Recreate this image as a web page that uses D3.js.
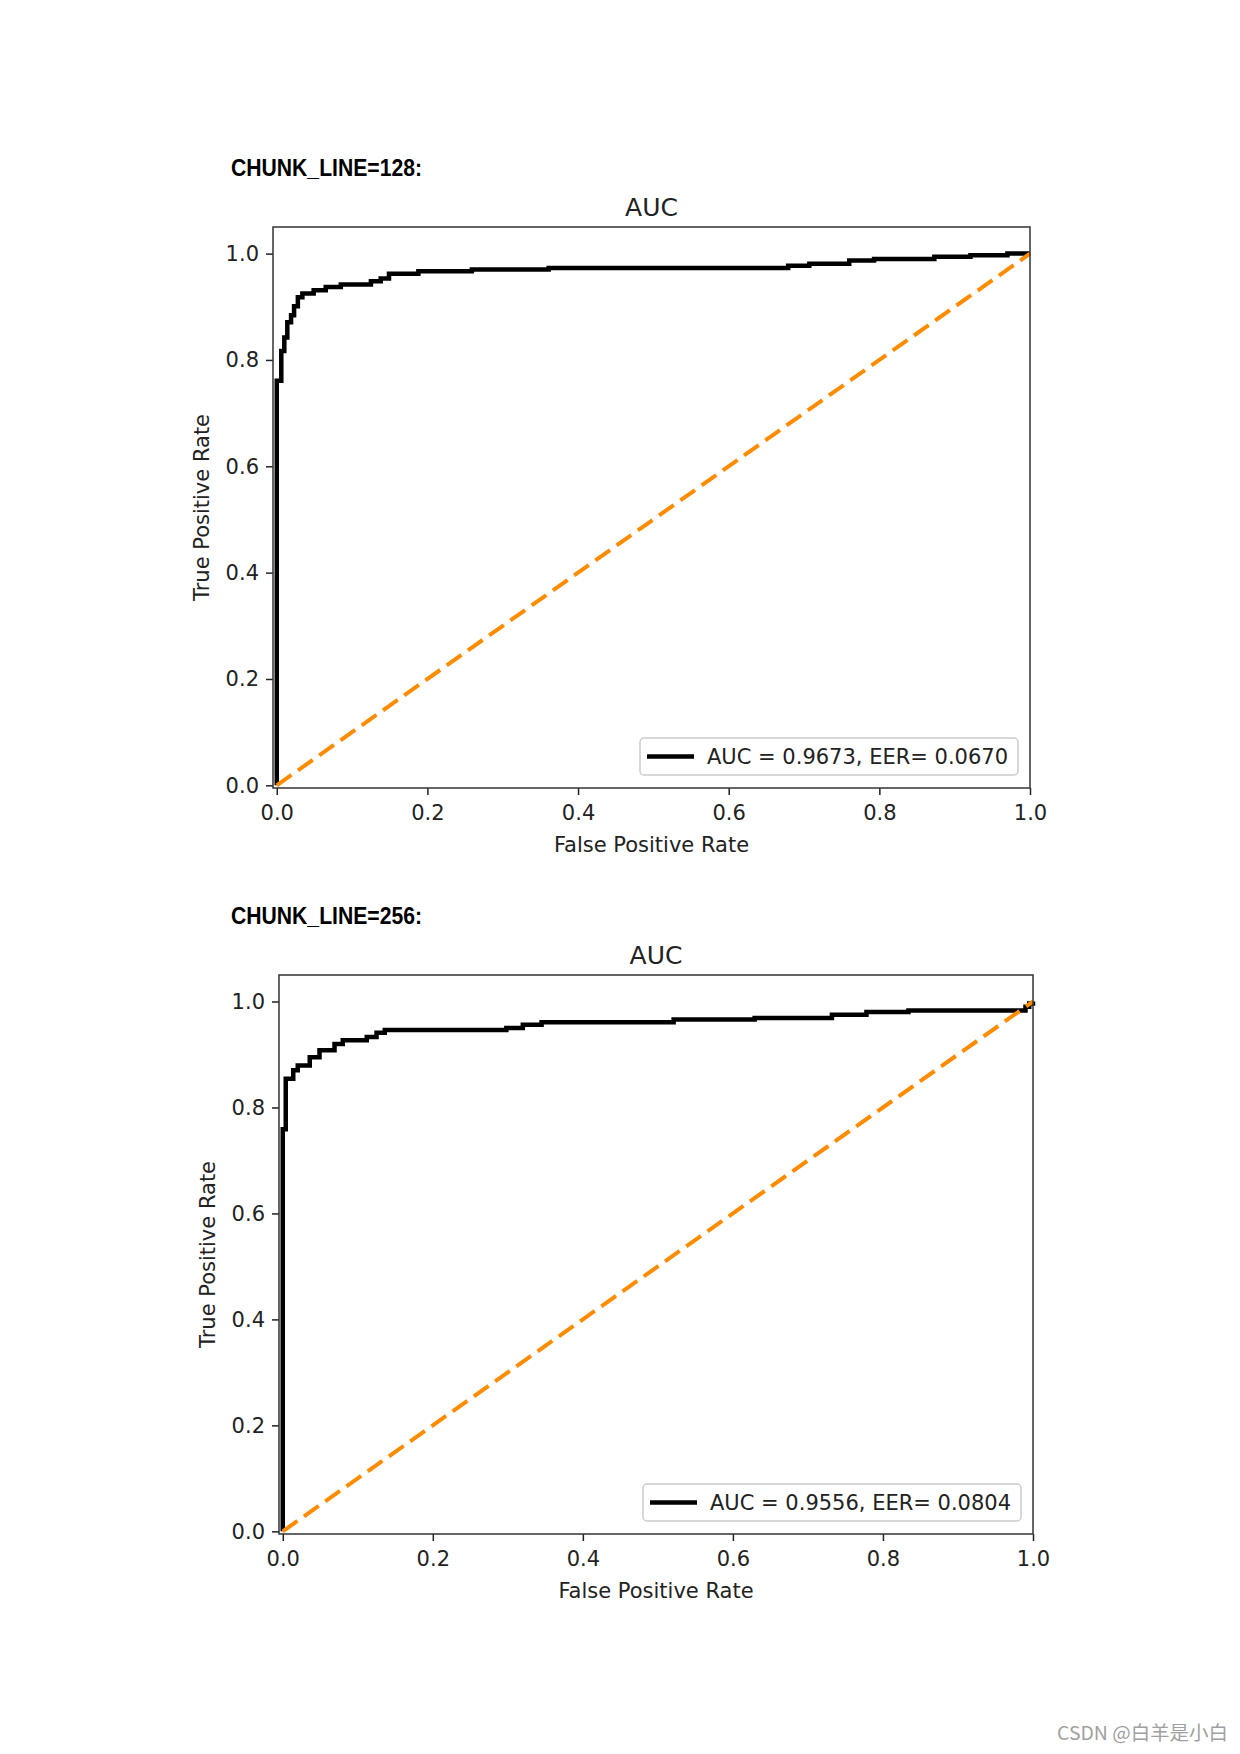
<!DOCTYPE html>
<html>
<head>
<meta charset="utf-8">
<script src="https://cdn.jsdelivr.net/npm/d3@7"></script>
<style>
  html, body { margin: 0; padding: 0; background: #fff; }
  svg { display: block; }
</style>
</head>
<body>
<svg id="page" width="1240" height="1754"></svg>
<script>
// ---------------- data ----------------
const headers = ["CHUNK_LINE=128:", "CHUNK_LINE=256:"];
const chartTitles = ["AUC", "AUC"];
const legendLabels = ["AUC = 0.9673, EER= 0.0670", "AUC = 0.9556, EER= 0.0804"];
const xTicks = [0.0, 0.2, 0.4, 0.6, 0.8, 1.0];
const yTicks = [0.0, 0.2, 0.4, 0.6, 0.8, 1.0];
const xLabel = "False Positive Rate";
const yLabel = "True Positive Rate";
const watermark = "CSDN @白羊是小白";

// ROC curve corner points (fpr, tpr)
const fpr128 = [0, 0, 0.006, 0.010, 0.014, 0.019, 0.023, 0.028, 0.034, 0.049, 0.065, 0.085, 0.125, 0.138, 0.149, 0.188, 0.259, 0.361, 0.679, 0.707, 0.760, 0.793, 0.873, 0.921, 0.970, 1.0];
const tpr128 = [0, 0.761, 0.817, 0.842, 0.871, 0.884, 0.901, 0.918, 0.925, 0.931, 0.937, 0.942, 0.948, 0.953, 0.962, 0.967, 0.970, 0.973, 0.977, 0.981, 0.987, 0.990, 0.994, 0.997, 1.0, 1.0];

const fpr256 = [0, 0, 0.004, 0.014, 0.020, 0.036, 0.049, 0.069, 0.080, 0.112, 0.125, 0.136, 0.298, 0.320, 0.345, 0.521, 0.629, 0.732, 0.778, 0.834, 0.990, 0.995, 1.0];
const tpr256 = [0, 0.759, 0.854, 0.870, 0.879, 0.895, 0.908, 0.920, 0.927, 0.933, 0.941, 0.946, 0.950, 0.956, 0.961, 0.966, 0.969, 0.975, 0.980, 0.983, 0.990, 0.996, 1.0];

// chance line
const chanceX = [0, 1];
const chanceY = [0, 1];

// ---------------- layout ----------------
const svg = d3.select("#page");
const FONT = "'DejaVu Sans', sans-serif";

const charts = [
  { header: headers[0], title: chartTitles[0], legend: legendLabels[0], fpr: fpr128, tpr: tpr128,
    box: { left: 273, top: 227, right: 1030, bottom: 788 }, headerY: 176 },
  { header: headers[1], title: chartTitles[1], legend: legendLabels[1], fpr: fpr256, tpr: tpr256,
    box: { left: 279, top: 975, right: 1033, bottom: 1534 }, headerY: 924 }
];

charts.forEach(c => {
  const b = c.box;
  const x = d3.scaleLinear().domain([-0.005, 1.0]).range([b.left, b.right]);
  const y = d3.scaleLinear().domain([-0.005, 1.05]).range([b.bottom, b.top]);

  // header
  svg.append("text")
    .attr("x", 231).attr("y", c.headerY)
    .attr("font-family", "'Liberation Sans', Arial, sans-serif")
    .attr("font-weight", "bold")
    .attr("font-size", 24)
    .attr("textLength", 191)
    .attr("lengthAdjust", "spacingAndGlyphs")
    .attr("fill", "#000")
    .text(c.header);

  // title
  svg.append("text")
    .attr("x", (b.left + b.right) / 2).attr("y", b.top - 11)
    .attr("text-anchor", "middle")
    .attr("font-family", FONT).attr("font-size", 25)
    .attr("fill", "#222")
    .text(c.title);

  const g = svg.append("g");
  const plot = g.append("g");

  // ROC curve
  const pts = c.fpr.map((v, i) => [v, c.tpr[i]]);
  const line = d3.line().x(d => x(d[0])).y(d => y(d[1])).curve(d3.curveStepAfter);
  plot.append("path")
    .attr("d", line(pts))
    .attr("fill", "none")
    .attr("stroke", "#000")
    .attr("stroke-width", 4.5)
    .attr("stroke-linejoin", "miter");

  // chance line
  const chance = chanceX.map((v, i) => [v, chanceY[i]]);
  plot.append("path")
    .attr("d", d3.line().x(d => x(d[0])).y(d => y(d[1]))(chance))
    .attr("fill", "none")
    .attr("stroke", "#ff8c00")
    .attr("stroke-width", 4)
    .attr("stroke-dasharray", "18 8");

  // axes
  const xAxis = d3.axisBottom(x).tickValues(xTicks).tickFormat(d3.format(".1f")).tickSize(7).tickPadding(10);
  const yAxis = d3.axisLeft(y).tickValues(yTicks).tickFormat(d3.format(".1f")).tickSize(7).tickPadding(7);

  const gx = g.append("g").attr("transform", `translate(0,${b.bottom})`).call(xAxis);
  const gy = g.append("g").attr("transform", `translate(${b.left},0)`).call(yAxis);
  [gx, gy].forEach(a => {
    a.select(".domain").remove();
    a.selectAll(".tick line").attr("stroke", "#222").attr("stroke-width", 1.5);
    a.selectAll(".tick text").attr("font-family", FONT).attr("font-size", 21).attr("fill", "#222");
  });

  // spines
  g.append("rect")
    .attr("x", b.left).attr("y", b.top)
    .attr("width", b.right - b.left).attr("height", b.bottom - b.top)
    .attr("fill", "none").attr("stroke", "#333").attr("stroke-width", 1.5);

  // axis labels
  svg.append("text")
    .attr("x", (b.left + b.right) / 2).attr("y", b.bottom + 64)
    .attr("text-anchor", "middle")
    .attr("font-family", FONT).attr("font-size", 21).attr("fill", "#222")
    .text(xLabel);
  svg.append("text")
    .attr("transform", `translate(${b.left - 64},${(b.top + b.bottom) / 2}) rotate(-90)`)
    .attr("text-anchor", "middle")
    .attr("font-family", FONT).attr("font-size", 21).attr("fill", "#222")
    .text(yLabel);

  // legend
  const lw = 378, lh = 37;
  const lx = b.right - 12 - lw, ly = b.bottom - 13 - lh;
  const lg = svg.append("g");
  lg.append("rect")
    .attr("x", lx).attr("y", ly).attr("width", lw).attr("height", lh)
    .attr("rx", 4).attr("ry", 4)
    .attr("fill", "#fff").attr("fill-opacity", 0.8)
    .attr("stroke", "#cccccc").attr("stroke-width", 1.5);
  lg.append("line")
    .attr("x1", lx + 7).attr("x2", lx + 54)
    .attr("y1", ly + lh / 2).attr("y2", ly + lh / 2)
    .attr("stroke", "#000").attr("stroke-width", 4.5);
  lg.append("text")
    .attr("x", lx + 67).attr("y", ly + lh / 2 + 7.5)
    .attr("font-family", FONT).attr("font-size", 21).attr("fill", "#222")
    .text(c.legend);
});

// watermark
svg.append("text")
  .attr("x", 1057).attr("y", 1740)
  .attr("font-family", "'Noto Sans CJK SC', 'Liberation Sans', sans-serif")
  .attr("font-size", 19)
  .attr("textLength", 171)
  .attr("lengthAdjust", "spacingAndGlyphs")
  .attr("fill", "#a0a0a0")
  .text(watermark);
</script>
</body>
</html>
